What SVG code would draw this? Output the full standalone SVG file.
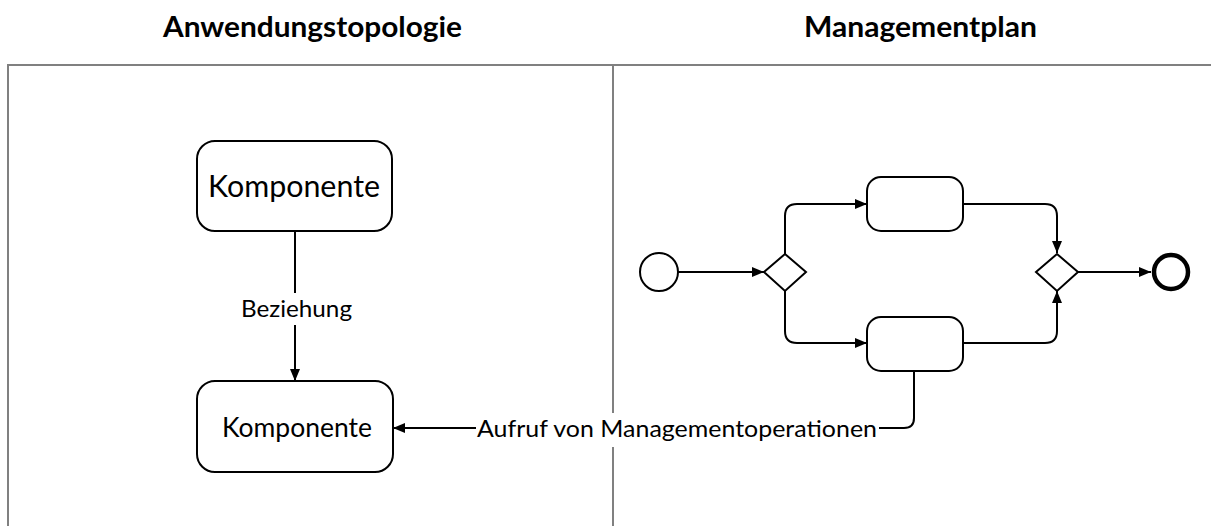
<svg xmlns="http://www.w3.org/2000/svg" width="1211" height="526" viewBox="0 0 1211 526">
<defs>
<style>
.frame{fill:none;stroke:#808080;stroke-width:2}
.box{fill:#fff;stroke:#000;stroke-width:2}
.line{fill:none;stroke:#000;stroke-width:2}
.t{font-family:Lato,"Liberation Sans",sans-serif;fill:#000;text-anchor:middle}
.title{font-weight:bold;font-size:29px}
.lbl{font-size:24px}
</style>
<marker id="arr" viewBox="0 0 12 10" refX="12" refY="5" markerWidth="12" markerHeight="10" markerUnits="userSpaceOnUse" orient="auto">
<path d="M0,0 L12,5 L0,10 Z" fill="#000"/>
</marker>
</defs>
<rect width="1211" height="526" fill="#fff"/>
<g id="frame">
<path class="frame" d="M8,526 V65 H1211 M613,65 V526"/>
<text class="t title" x="312.5" y="37" textLength="299" lengthAdjust="spacingAndGlyphs">Anwendungstopologie</text>
<text class="t title" x="920.5" y="37" textLength="233" lengthAdjust="spacingAndGlyphs">Managementplan</text>
</g>
<g id="connectors">
<path class="line" d="M295,231 V381" marker-end="url(#arr)"/>
<rect x="236" y="293" width="120" height="32" fill="#fff"/>
<text class="t lbl" x="296.5" y="317" textLength="111" lengthAdjust="spacingAndGlyphs">Beziehung</text>
<path class="line" d="M678,272 H764" marker-end="url(#arr)"/>
<path class="line" d="M785,254 V216 Q785,204 797,204 H867" marker-end="url(#arr)"/>
<path class="line" d="M785,291 V331 Q785,343 797,343 H867" marker-end="url(#arr)"/>
<path class="line" d="M963,204 H1045 Q1057,204 1057,216 V253" marker-end="url(#arr)"/>
<path class="line" d="M963,343 H1045 Q1057,343 1057,331 V291" marker-end="url(#arr)"/>
<path class="line" d="M1078,272 H1151" marker-end="url(#arr)"/>
<path class="line" d="M914,371 V418 Q914,428 904,428 H393" marker-end="url(#arr)"/>
<rect x="476" y="413" width="403" height="34" fill="#fff"/>
<text class="t lbl" x="677" y="437" textLength="400" lengthAdjust="spacingAndGlyphs">Aufruf von Managementoperationen</text>
</g>
<g id="komponente1">
<rect class="box" x="197" y="141" width="195" height="90" rx="18"/>
<text class="t" x="294" y="197" font-size="30" textLength="172" lengthAdjust="spacingAndGlyphs">Komponente</text>
</g>
<g id="komponente2">
<rect class="box" x="197" y="381" width="196" height="91" rx="18"/>
<text class="t" x="297" y="437" font-size="27" textLength="150" lengthAdjust="spacingAndGlyphs">Komponente</text>
</g>
<g id="start">
<circle class="box" cx="659" cy="272" r="19"/>
</g>
<g id="split">
<path class="box" d="M764,272 L785,254 L806,272 L785,291 Z"/>
</g>
<g id="task1">
<rect class="box" x="867" y="177" width="96" height="54" rx="14"/>
</g>
<g id="task2">
<rect class="box" x="867" y="317" width="96" height="54" rx="14"/>
</g>
<g id="merge">
<path class="box" d="M1036,272 L1057,254 L1078,272 L1057,291 Z"/>
</g>
<g id="end">
<circle cx="1171" cy="272" r="17" fill="#fff" stroke="#000" stroke-width="4.5"/>
</g>
</svg>
